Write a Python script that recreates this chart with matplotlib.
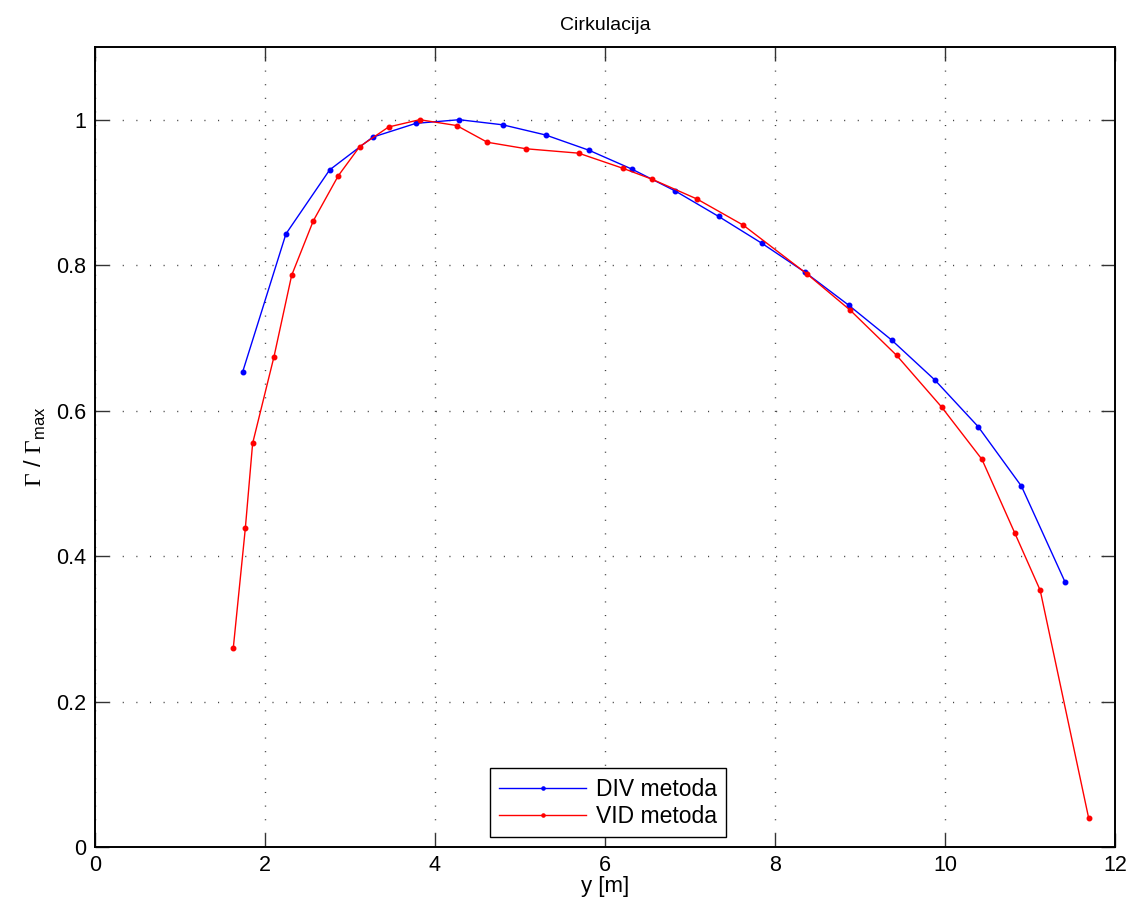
import matplotlib
matplotlib.use("Agg")
import matplotlib.pyplot as plt

# DIV metoda
y_div = [1.737, 2.247, 2.761, 3.267, 3.776, 4.286, 4.796, 5.302, 5.812, 6.318,
         6.827, 7.337, 7.847, 8.357, 8.867, 9.373, 9.882, 10.39, 10.90, 11.41]
g_div = [0.653, 0.843, 0.931, 0.976, 0.995, 1.000, 0.993, 0.979, 0.958, 0.932,
         0.902, 0.867, 0.830, 0.790, 0.745, 0.697, 0.642, 0.578, 0.496, 0.365]

# VID metoda
y_vid = [1.627, 1.769, 1.855, 2.106, 2.314, 2.569, 2.863, 3.114, 3.455, 3.820,
         4.255, 4.616, 5.075, 5.690, 6.216, 6.557, 7.082, 7.627, 8.376, 8.886,
         9.431, 9.960, 10.435, 10.82, 11.12, 11.69]
g_vid = [0.273, 0.438, 0.555, 0.674, 0.786, 0.861, 0.923, 0.963, 0.990, 1.000,
         0.992, 0.969, 0.960, 0.954, 0.933, 0.918, 0.891, 0.855, 0.788, 0.738,
         0.676, 0.605, 0.533, 0.432, 0.353, 0.040]

plt.rcParams['font.family'] = ['Liberation Sans', 'DejaVu Sans']
plt.rcParams['mathtext.fontset'] = 'custom'
plt.rcParams['mathtext.rm'] = 'Liberation Serif'
plt.rcParams['mathtext.sf'] = 'Liberation Sans'

fig = plt.figure(figsize=(11.33, 9.14), dpi=100)
ax = fig.add_axes([0.0838, 0.0733, 0.9003, 0.8753])

ax.plot(y_div, g_div, '.-', color='blue', lw=1, ms=6.5, label='DIV metoda')
ax.plot(y_vid, g_vid, '.-', color='red', lw=1, ms=6.5, label='VID metoda')

ax.set_xlim(0, 12)
ax.set_ylim(0, 1.1)
ax.set_xticks([0, 2, 4, 6, 8, 10, 12])
ax.set_yticks([0, 0.2, 0.4, 0.6, 0.8, 1])
ax.set_yticklabels(['0', '0.2', '0.4', '0.6', '0.8', '1'])
ax.tick_params(direction='in', length=10, width=1, color='#333333',
               top=True, right=True, labelsize=15.5, pad=6)
ax.grid(True, linestyle=(0, (0.8, 9)), color='#444444', linewidth=1)
for s in ax.spines.values():
    s.set_linewidth(1.4)

ax.set_title('Cirkulacija', fontsize=14, pad=12)
ax.set_xlabel('y [m]', fontsize=16, labelpad=0)
ax.set_ylabel(r'$\Gamma$ / $\Gamma_{\mathsf{max}}$', fontsize=17, labelpad=6)

leg = ax.legend(loc='lower center', bbox_to_anchor=(0.503, 0.012), fontsize=16.5,
                fancybox=False, edgecolor='black', framealpha=1,
                handlelength=3.8, handletextpad=0.4, borderpad=0.4,
                labelspacing=0.2, borderaxespad=0, markerscale=0.7)
leg.get_frame().set_linewidth(1)

fig.savefig('out.png', dpi=100)
